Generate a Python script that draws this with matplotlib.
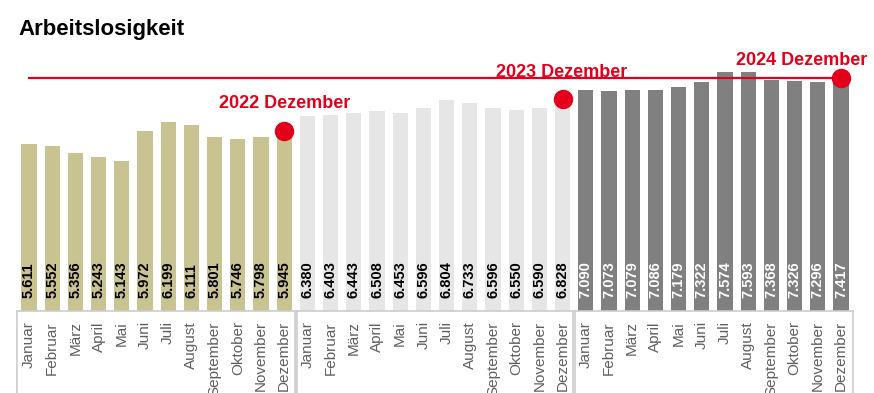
import matplotlib
matplotlib.use("Agg")
import matplotlib.pyplot as plt

plt.rcParams['font.family'] = ['Liberation Sans', 'DejaVu Sans']

# data
months = ["Januar", "Februar", "März", "April", "Mai", "Juni", "Juli",
          "August", "September", "Oktober", "November", "Dezember"]
years = ["2022", "2023", "2024"]
values_2022 = [5.611, 5.552, 5.356, 5.243, 5.143, 5.972, 6.199,
               6.111, 5.801, 5.746, 5.798, 5.945]
values_2023 = [6.380, 6.403, 6.443, 6.508, 6.453, 6.596, 6.804,
               6.733, 6.596, 6.550, 6.590, 6.828]
values_2024 = [7.090, 7.073, 7.079, 7.086, 7.179, 7.322, 7.574,
               7.593, 7.368, 7.326, 7.296, 7.417]

series = [values_2022, values_2023, values_2024]
bar_colors = ["#c9c392", "#e6e6e6", "#808080"]
text_colors = ["black", "black", "white"]
red = "#e2001a"

fig = plt.figure(figsize=(8.74, 3.93), dpi=100)
ax = fig.add_axes([17.4 / 874, 1 - 311 / 393, (852.6 - 17.4) / 874, 271 / 393])
ymin, ymax = 1.0, 1.0 + 271 / 36.3
ax.set_xlim(-0.5, 35.5)
ax.set_ylim(ymin, ymax)
ax.axis("off")

for k, vals in enumerate(series):
    xs = [12 * k + i for i in range(12)]
    ax.bar(xs, [v - ymin for v in vals], bottom=ymin, width=0.66,
           color=bar_colors[k], edgecolor="none")
    for x, v in zip(xs, vals):
        ax.text(x, ymin + 0.36, f"{v:.3f}", rotation=90, ha="center", va="bottom",
                fontsize=10.5, fontweight="bold", color=text_colors[k])
        ax.text(x, ymin - 0.28, months[x % 12], rotation=90, ha="center", va="top",
                fontsize=11, color="#5f5f5f", clip_on=False)

    # bottom box per year
    left = 12 * k - 0.5 + (0.05 if k > 0 else 0)
    right = 12 * k + 11.5 - (0.05 if k < 2 else 0)
    for xb in (left, right):
        ax.plot([xb, xb], [ymin, ymin - 3], color="#cccccc", lw=1.2, clip_on=False)
    ax.plot([left, right], [ymin, ymin], color="#cccccc", lw=1.2, clip_on=False)

# reference line at last December value
last = values_2024[-1]
ax.plot([0, 35], [last, last], color=red, lw=1.6, zorder=3)

# December markers
offsets = [(0, 20), (-1, 19.5), (-28, 13)]
for k, vals in enumerate(series):
    x = 12 * k + 11
    ax.plot(x, vals[-1], "o", color=red, markersize=13, zorder=4)
    ax.annotate(f"{years[k]} Dezember", (x, vals[-1]), xytext=offsets[k],
                textcoords="offset points", ha="center", va="center",
                fontsize=13, fontweight="bold", color=red, annotation_clip=False)

fig.text(18 / 874, 1 - 30 / 393, "Arbeitslosigkeit", fontsize=16,
         fontweight="bold", ha="left", va="center")

fig.savefig("out.png", dpi=100)
